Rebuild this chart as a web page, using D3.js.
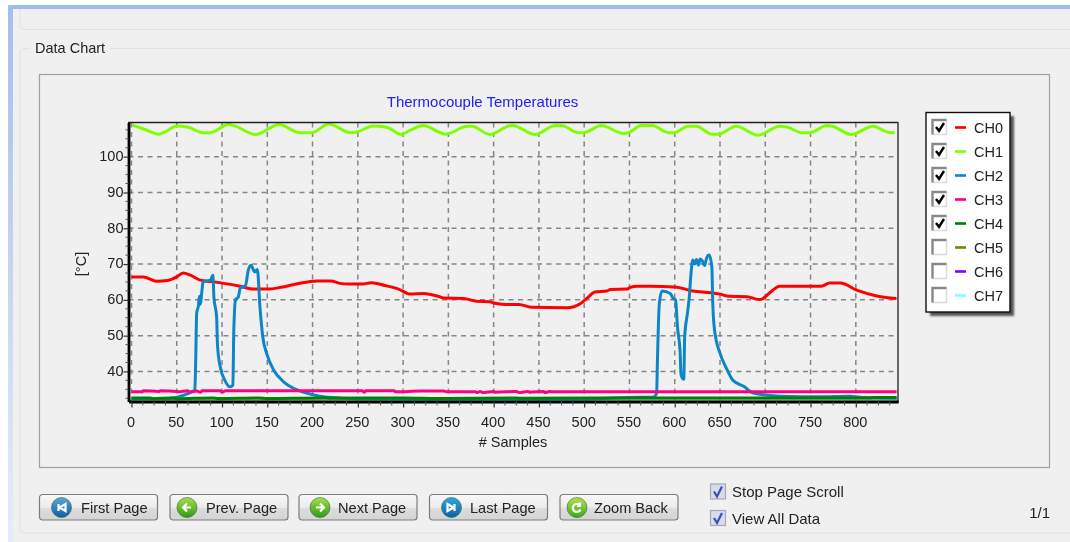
<!DOCTYPE html>
<html><head><meta charset="utf-8">
<script src="https://cdn.jsdelivr.net/npm/d3@7/dist/d3.min.js"></script>
<style>
html,body{margin:0;padding:0;background:#fff;overflow:hidden}
text{font-family:"Liberation Sans",Arial,sans-serif}
</style></head><body><svg id="c" width="1070" height="542"></svg>
<script>
const xTicks=[0,50,100,150,200,250,300,350,400,450,500,550,600,650,700,750,800];
const yTicks=[40,50,60,70,80,90,100];
const channelNames=["CH0","CH1","CH2","CH3","CH4","CH5","CH6","CH7"];
const channelColors=["#ff0000","#80ff00","#0a86c8","#ff0080","#008000","#808000","#8000ff","#80ffff"];
const channelChecked=[true,true,true,true,true,false,false,false];
const buttonLabels=["First Page","Prev. Page","Next Page","Last Page","Zoom Back"];
const checkLabels=["Stop Page Scroll","View All Data"];

const ch0S=[0,13,28,40,50,57,65,76,88,102,120,135,151,165,183,205,220,230,240,255,265,280,295,308,323,341,345,367,381,396,400,413,428,442,481,496,503,512,525,529,547,551,558,573,600,620,640,650,660,680,690,695,705,716,762,771,783,801,823,838,845];
const ch0V=[66.4,66.4,65.2,65.4,66.4,67.5,66.9,65.5,65.1,64.6,63.8,63,63,63.5,64.5,65.3,65.3,64.6,64.4,64.4,64.8,64,63,61.6,61.8,60.8,60.5,60.4,59.6,59.5,59.1,58.7,58.7,57.9,57.8,59,60.4,62.2,62.5,62.9,63,63.5,63.8,63.8,63.6,62.5,62,61.6,61,60.9,60.2,60.1,62,63.8,63.8,64.7,64.7,62.7,61.1,60.5,60.4];

const ch1S=[1,15,30,37,50,63,79,87,107,114,137,163,186,199,218,242,249,267,282,298,308,322,347,371,376,396,420,446,468,475,493,499,519,543,549,563,575,593,599,615,624,641,648,668,692,716,724,740,749,768,773,795,819,838,843];
const ch1V=[108.8,107.6,106.3,106.9,108.6,108.2,106.7,106.7,109,108.6,106.2,109,106.7,106.7,109.1,106.7,106.9,108.6,108.2,106.2,107.4,108.7,106.3,108.5,108.5,106.2,108.8,106.2,108.7,108.7,106.7,106.7,108.7,106.5,106.7,108.7,108.7,106.7,106.7,108.5,108.5,106.3,106.3,108.5,106,108.5,108.3,106.7,106.7,108.7,108.6,106.2,108.5,106.7,106.7];

const ch2S=[0,40,56,62,70,71,72,74,75,76,78,79,87,90,91,94,95,98,103,109,112,113,115,118,120,126,129,132,136,139,142,145,150,157,168,179,194,208,230,260,320,400,500,562,576,580,581,583,586,595,598,601,603,606,607,610,611,614,616,618,620,622,624,626,628,630,633,635,638,641,642,644,650,657,664,677,686,701,716,760,793,810,845];
const ch2V=[32.4,32.4,33.2,33.8,34.8,44,56.2,58.5,61,58.8,63,65,65.5,66.9,60.8,55.3,47.3,41.3,37.6,35.7,36.2,51.5,60.1,60.8,63.2,64.1,68.3,69.7,67.8,68.5,57.6,49.7,44.5,40.4,37.1,35.3,33.9,33.1,32.6,32.4,32.3,32.3,32.3,32.8,32.8,33.9,44.1,59,62.5,61.8,60.5,59.9,52.5,45,39,37.8,49.7,56.2,60.5,67.4,71.1,70,71.3,69.7,71.4,71.1,69.6,71.5,72.5,69.2,59.1,51.5,45.1,40.9,37.6,35.7,34,33.4,33.1,32.9,33.1,32.7,32.5];

const ch3S=[0,12,13,30,32,50,52,62,64,72,76,78,98,100,104,255,257,259,290,292,320,345,348,380,382,385,388,400,402,425,428,438,440,455,457,462,465,500,845];
const ch3V=[34.3,34.3,34.6,34.4,34.6,34.4,34.3,34.6,34.3,34.5,34.2,34.6,34.6,34.2,34.6,34.6,34.2,34.6,34.6,34.3,34.5,34.5,34.3,34.3,34.1,34.4,34.1,34.4,34.2,34.4,34.1,34.4,34.2,34.4,34.1,34.4,34.3,34.3,34.3];

const ch4S=[0,20,24,45,50,90,96,140,150,210,220,300,340,420,430,590,600,700,815,820,845];
const ch4V=[32.6,32.6,32.4,32.6,32.4,32.6,32.45,32.6,32.45,32.6,32.5,32.6,32.45,32.6,32.5,32.6,32.55,32.6,32.6,32.75,32.75];
const floorLevel=[32];

const svg=d3.select("#c");
const defs=svg.append("defs");
const soft=defs.append("filter").attr("id","soft").attr("x","-2%").attr("y","-2%").attr("width","104%").attr("height","104%");
soft.append("feGaussianBlur").attr("stdDeviation",0.4);
const sh=defs.append("filter").attr("id","sh").attr("x","-20%").attr("y","-20%").attr("width","150%").attr("height","150%");
sh.append("feGaussianBlur").attr("stdDeviation",1.2);
function lin(id,stops,horizontal){
  const g=defs.append("linearGradient").attr("id",id).attr("x1",0).attr("y1",0).attr("x2",horizontal?1:0).attr("y2",horizontal?0:1);
  stops.forEach(([o,c])=>g.append("stop").attr("offset",o).attr("stop-color",c));
}
lin("btn",[[0,"#f8f8f8"],[0.5,"#ececec"],[0.55,"#dcdcdc"],[1,"#d4d4d4"]]);
lin("frameL",[[0,"#a6bee9"],[1,"#e6ecf8"]]);
lin("ibl",[[0,"#5aa8dc"],[1,"#0b5fa6"]]);
lin("igr",[[0,"#a8e04a"],[1,"#2e9a14"]]);
lin("icy",[[0,"#2fa6e0"],[1,"#0b62a8"]]);
lin("izm",[[0,"#b4e24c"],[1,"#3da81c"]]);

const root=svg.append("g").attr("filter","url(#soft)");
root.append("rect").attr("x",8).attr("y",5).attr("width",1062).attr("height",537).attr("fill","#f0f0f0");
root.append("rect").attr("x",8).attr("y",5).attr("width",1062).attr("height",4).attr("fill","#9fb9e8");
root.append("rect").attr("x",8).attr("y",5).attr("width",5).attr("height",537).attr("fill","url(#frameL)");

const groove="#dbe4ec";
root.append("path").attr("d","M20,9V25Q20,29.5 25,29.5H1070").attr("fill","none").attr("stroke",groove).attr("stroke-width",1.2);
root.append("path").attr("d","M30,48.5H25Q20,48.5 20,54V528Q20,533 25,533H1070").attr("fill","none").attr("stroke",groove).attr("stroke-width",1.2);
root.append("path").attr("d","M110,48.5H1070").attr("fill","none").attr("stroke",groove).attr("stroke-width",1.2);
root.append("text").attr("x",35).attr("y",53).attr("font-size",14.5).attr("fill","#222").text("Data Chart");
root.append("rect").attr("x",39.5).attr("y",74.5).attr("width",1010).attr("height",393).attr("fill","none").attr("stroke","#a0a0a0").attr("stroke-width",1.2);

const x=d3.scaleLinear().domain([-3.3,846.6]).range([128.5,898]);
const y=d3.scaleLinear().domain([31.6,109.55]).range([401.5,122.5]);
const gridC="#868686";
const grid=root.append("g");
grid.selectAll(".gx").data(xTicks).join("line").attr("x1",d=>x(d)).attr("x2",d=>x(d)).attr("y1",y.range()[1]).attr("y2",y.range()[0])
  .attr("stroke",gridC).attr("stroke-width",1.5).attr("stroke-dasharray","5 4.5");
grid.selectAll(".gy").data(yTicks).join("line").attr("y1",d=>y(d)).attr("y2",d=>y(d)).attr("x1",x.range()[0]).attr("x2",x.range()[1])
  .attr("stroke",gridC).attr("stroke-width",1.5).attr("stroke-dasharray","5 4.5");
grid.selectAll(".gf").data(floorLevel).join("line").attr("y1",d=>y(d)).attr("y2",d=>y(d)).attr("x1",x.range()[0]).attr("x2",x.range()[1])
  .attr("stroke","#aaaaaa").attr("stroke-width",1.6);

const line=d3.line().x(d=>x(d[0])).y(d=>y(d[1])).curve(d3.curveMonotoneX);
[[ch0S,ch0V,0],[ch1S,ch1V,1],[ch2S,ch2V,2],[ch3S,ch3V,3],[ch4S,ch4V,4]].forEach(([s,v,i])=>{
  root.append("path").datum(s.map((d,j)=>[d,v[j]])).attr("d",line).attr("fill","none")
    .attr("stroke",channelColors[i]).attr("stroke-width",3).attr("stroke-linejoin","round");
});

// frame
root.append("line").attr("x1",128).attr("x2",898).attr("y1",122.5).attr("y2",122.5).attr("stroke","#222").attr("stroke-width",1.4);
root.append("line").attr("x1",898).attr("x2",898).attr("y1",122).attr("y2",403).attr("stroke","#444").attr("stroke-width",1.6);

// axes
const minorX=d3.range(0,846,12.5).filter(d=>d%50!==0);
const minorY=d3.range(32.5,109,2.5).filter(d=>d%10!==0);
const ax=root.append("g").attr("transform",`translate(0,${y.range()[0]})`)
  .call(d3.axisBottom(x).tickValues(xTicks).tickSize(6).tickPadding(9).tickSizeOuter(0));
const ay=root.append("g").attr("transform",`translate(${x.range()[0]},0)`)
  .call(d3.axisLeft(y).tickValues(yTicks).tickSize(5).tickPadding(3).tickSizeOuter(0));
[ax,ay].forEach(g=>{
  g.select(".domain").attr("stroke","#000").attr("stroke-width",2.8);
  g.selectAll(".tick line").attr("stroke","#333").attr("stroke-width",1.2);
  g.selectAll("text").attr("font-size",14.5).attr("fill","#222").attr("font-family","Liberation Sans");
});
ax.selectAll("text").attr("dx",-1);
ay.selectAll("text").attr("dx",-5).attr("transform","translate(4,-0.8)");
ay.selectAll("text").attr("dx",-1);
root.append("g").selectAll("line").data(minorX).join("line").attr("x1",d=>x(d)).attr("x2",d=>x(d))
  .attr("y1",y.range()[0]).attr("y2",y.range()[0]+4).attr("stroke","#555").attr("stroke-width",1);
root.append("g").selectAll("line").data(minorY).join("line").attr("y1",d=>y(d)).attr("y2",d=>y(d))
  .attr("x1",x.range()[0]-3).attr("x2",x.range()[0]).attr("stroke","#555").attr("stroke-width",1);

root.append("text").attr("x",482.5).attr("y",107).attr("text-anchor","middle").attr("font-size",15).attr("fill","#2020f0").text("Thermocouple Temperatures");
root.append("text").attr("x",513).attr("y",447).attr("text-anchor","middle").attr("font-size",14.5).attr("fill","#222").text("# Samples");
root.append("text").attr("transform","translate(86,264) rotate(-90)").attr("text-anchor","middle").attr("font-size",14.5).attr("fill","#222").text("[°C]");

// legend
root.append("rect").attr("x",930).attr("y",116).attr("width",84).attr("height",200).attr("fill","#555").attr("filter","url(#sh)");
root.append("rect").attr("x",926).attr("y",112.5).attr("width",84).attr("height",199.5).attr("fill","#fff").attr("stroke","#111").attr("stroke-width",1.4);
const rowY=d3.scaleLinear().domain([0,7]).range([127.5,295.5]);
const row=root.append("g").selectAll("g").data(channelNames).join("g").attr("transform",(d,i)=>`translate(0,${rowY(i)})`);
row.append("rect").attr("x",932.5).attr("y",-7.5).attr("width",14).attr("height",14.5).attr("fill","#fff").attr("stroke","#dcdcdc").attr("stroke-width",1.6);
row.append("path").attr("d","M932.5,7V-7.5H946.5").attr("fill","none").attr("stroke","#8a8a8a").attr("stroke-width",2.4);
row.filter((d,i)=>channelChecked[i]).append("path").attr("d","M936,-0.5L939,3.5L944,-4.5").attr("fill","none").attr("stroke","#000").attr("stroke-width",2.4);
row.append("line").attr("x1",955).attr("x2",966).attr("y1",0).attr("y2",0).attr("stroke-width",2.6).attr("stroke",(d,i)=>channelColors[i]);
row.append("text").attr("x",974).attr("y",5).attr("font-size",14.5).attr("fill","#222").text(d=>d);

// buttons
const btnX=[39.5,170,299,429.5,560];
const btnW=118;
const iconX=[22,17,21,22,17];
const textX=[41.5,36,39,40.5,34];
const iconFill=["url(#ibl)","url(#igr)","url(#igr)","url(#icy)","url(#izm)"];
const iconPath=["M-3,-3.5V3.5M4,-3.5L-2,0L4,3.5Z","M4,0H-3M0,-4L-4,0L0,4","M-4,0H3M0,-4L4,0L0,4","M3,-3.5V3.5M-4,-3.5L2,0L-4,3.5Z","M3,-2A4,4 0 1 0 3.5,2M3,-5V-1.5H0"];
const btn=root.append("g").selectAll("g").data(buttonLabels).join("g").attr("transform",(d,i)=>`translate(${btnX[i]},494.5)`);
btn.append("rect").attr("width",btnW).attr("height",25.5).attr("rx",3).attr("fill","url(#btn)").attr("stroke","#7c7c7c").attr("stroke-width",1.2);
btn.append("circle").attr("cx",(d,i)=>iconX[i]).attr("cy",13).attr("r",10).attr("fill",(d,i)=>iconFill[i]).attr("stroke","#2c6b3a").attr("stroke-opacity",.6);
btn.append("path").attr("transform",(d,i)=>`translate(${iconX[i]},13)`).attr("d",(d,i)=>iconPath[i]).attr("fill","none").attr("stroke","#fff").attr("stroke-width",2.2);
btn.append("text").attr("x",(d,i)=>textX[i]).attr("y",18.5).attr("font-size",14.6).attr("fill","#222").text(d=>d);

// checkboxes
const checkY=[491.5,518];
const chk=root.append("g").selectAll("g").data(checkLabels).join("g").attr("transform",(d,i)=>`translate(710,${checkY[i]})`);
chk.append("rect").attr("x",0.5).attr("y",-7.5).attr("width",15).attr("height",15).attr("fill","#d5dcec").attr("stroke","#a8a8b4").attr("stroke-width",1.2);
chk.append("path").attr("d","M4,0L7,5L12,-5").attr("fill","none").attr("stroke","#3c50b4").attr("stroke-width",2.2);
chk.append("text").attr("x",22).attr("y",5.5).attr("font-size",15).attr("fill","#222").text(d=>d);
root.append("text").attr("x",1050).attr("y",518).attr("text-anchor","end").attr("font-size",15).attr("fill","#222").text("1/1");
</script></body></html>
